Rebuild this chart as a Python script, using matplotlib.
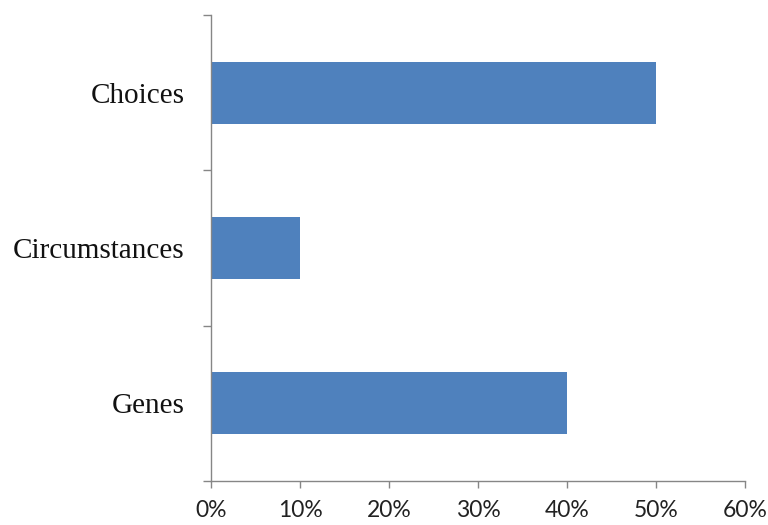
import matplotlib
matplotlib.use("Agg")
import matplotlib.pyplot as plt
from matplotlib.ticker import FixedLocator, PercentFormatter

# data (bottom to top)
categories = ["Genes", "Circumstances", "Choices"]
shares = [40, 10, 50]
x_ticks = [0, 10, 20, 30, 40, 50, 60]

bar_color = "#4F81BD"
axis_color = "#868686"

fig = plt.figure(figsize=(7.68, 5.25), dpi=100)
ax = fig.add_axes([211 / 768, 44 / 525, 534 / 768, 466 / 525])

ax.barh(range(len(categories)), shares, height=0.4, color=bar_color)

ax.set_xlim(0, 60)
ax.set_ylim(-0.5, len(categories) - 0.5)

# only the left and bottom axis lines, in grey
for side in ["top", "right"]:
    ax.spines[side].set_visible(False)
for side in ["left", "bottom"]:
    ax.spines[side].set_color(axis_color)
    ax.spines[side].set_linewidth(1.0)

ax.set_xticks(x_ticks)
ax.xaxis.set_major_formatter(PercentFormatter(decimals=0))
ax.tick_params(axis="x", direction="out", length=5, width=1.0, color=axis_color, pad=9)
for lbl in ax.get_xticklabels():
    lbl.set_fontfamily("Lato")
    lbl.set_fontsize(16.5)
    lbl.set_color("#222222")

# category boundaries get tick marks, names sit between them
ax.yaxis.set_major_locator(FixedLocator([i - 0.5 for i in range(len(categories) + 1)]))
ax.yaxis.set_major_formatter(plt.NullFormatter())
ax.yaxis.set_minor_locator(FixedLocator(range(len(categories))))
ax.set_yticklabels(categories, minor=True)
ax.tick_params(axis="y", which="major", direction="out", length=6, width=1.0, color=axis_color)
ax.tick_params(axis="y", which="minor", length=0, pad=19)
for lbl in ax.get_yticklabels(minor=True):
    lbl.set_fontfamily("Liberation Serif")
    lbl.set_fontsize(21)
    lbl.set_color("#111111")

fig.savefig("out.png", dpi=100)
